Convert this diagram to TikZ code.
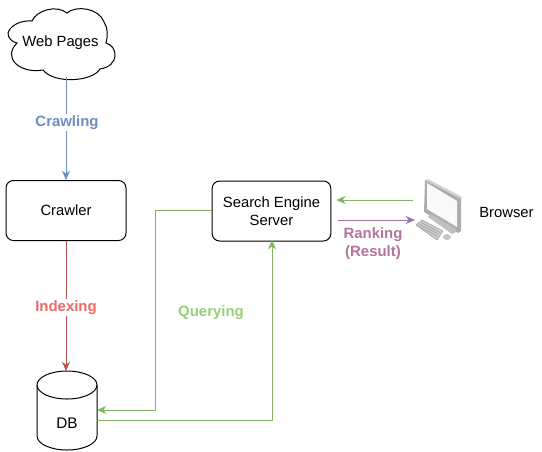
\documentclass[tikz,border=0pt]{standalone}
\usepackage{fontspec}
\setmainfont{Liberation Sans}
\usetikzlibrary{arrows.meta}
\definecolor{cblue}{HTML}{6C8EBF}
\definecolor{cred}{HTML}{B85450}
\definecolor{cgreen}{HTML}{82B366}
\definecolor{cpurple}{HTML}{9673A6}
\definecolor{tblue}{HTML}{6C8EBF}
\definecolor{tred}{HTML}{EA6B66}
\definecolor{tgreen}{HTML}{97D077}
\definecolor{tpurple}{HTML}{B5739D}
\tikzset{
  box/.style={draw=black,fill=white,rounded corners=5.6pt,minimum width=90pt,minimum height=45pt,inner sep=0pt,align=center,line width=0.75pt},
  lbl/.style={font=\fontsize{11.1pt}{13.5pt}\selectfont,align=center,inner sep=0pt},
  blbl/.style={font=\fontsize{11.2pt}{13.5pt}\selectfont\bfseries,align=center,inner sep=0pt,fill=white,inner xsep=1pt,inner ysep=1pt},
  conn/.style={line width=0.75pt,-{Stealth[length=7pt,width=6pt]}},
  shp/.style={line width=0.75pt,draw=black,fill=white}
}
\begin{document}
\begin{tikzpicture}[x=0.75pt,y=-0.75pt]
\useasboundingbox (0,0) rectangle (542,451);
% cloud
\draw[shp] (8,33) .. controls (10,26) and (20,20) .. (32,21)
 .. controls (36,11) and (56,4) .. (67,13)
 .. controls (76,5) and (99,8) .. (104,22)
 .. controls (108,28) and (108,36) .. (106,43)
 .. controls (118,46) and (120,66) .. (100,69)
 .. controls (92,82) and (54,84) .. (43,70)
 .. controls (20,74) and (2,58) .. (17,43)
 .. controls (12,42) and (8,38) .. (8,33) -- cycle;
\node[lbl] (web) at (60.5,43) {Web Pages};
\coordinate (webb) at (66,77);
\node[box,font=\fontsize{11.1pt}{13.5pt}\selectfont] (crawler) at (66,210.5) {\raisebox{-0.7pt}{Crawler}};
\node[box,minimum width=89pt,font=\fontsize{11.1pt}{13.5pt}\selectfont] (server) at (271.5,211) {Search Engine\\Server};
% DB
\draw[shp] (37,385) arc[x radius=30,y radius=14,start angle=180,end angle=360] -- (97,436) arc[x radius=30,y radius=14,start angle=0,end angle=180] -- cycle;
\draw[line width=0.75pt] (37,385) arc[x radius=30,y radius=14,start angle=180,end angle=0];
\node[lbl,font=\fontsize{11.5pt}{14pt}\selectfont] (db) at (67,423) {DB};
\coordinate (dbt) at (66,371);
\coordinate (dbr1) at (97,410);
\coordinate (dbr2) at (97,420);
\coordinate (sl) at (212,210);
\coordinate (sb) at (272,240);
\coordinate (sr1) at (331,200);
\coordinate (sr2) at (331,220);
\coordinate (pc1) at (413,200);
\coordinate (pc2) at (415,220);
% connectors
\draw[conn,draw=cblue] (webb) -- (crawler.north -| webb);
\draw[conn,draw=cred] (crawler.south -| dbt) -- (dbt);
\draw[conn,draw=cgreen] (sl) -- (155,210) -- (155,410) -- (dbr1);
\draw[conn,draw=cgreen] (dbr2) -- (272,420) -- (sb);
\draw[conn,draw=cgreen] (pc1) -- ([xshift=4pt]sr1);
\draw[conn,draw=cpurple] ([xshift=5pt]sr2) -- (pc2);
% labels
\node[blbl,text=tblue] (l1) at (67,122.5) {Crawling};
\node[blbl,text=tred] (l2) at (66,307.5) {Indexing};
\node[blbl,text=tgreen] (l3) at (211,312.5) {Querying};
\node[blbl,text=tpurple] (l4) at (373,244) {Ranking\\(Result)};
\node[lbl] (browser) at (506.5,212) {Browser};
% computer icon
\fill[gray!65] (425,180) -- (461,198) -- (461,231) -- (458,233) -- (424,212) -- cycle;
\fill[gray!35] (425,180) -- (428,179) -- (462,197) -- (461,199) -- cycle;
\fill[gray!5] (427,183) -- (457,201) -- (457,227) -- (427,209) -- cycle;
\fill[gray!50] (428,217) -- (431,214) -- (456,229) -- (456,232) -- (452,234) -- cycle;
\fill[gray!40] (416,225) -- (422,220) -- (443,231) -- (437,240) -- cycle;
\draw[gray!75,line width=0.4pt] (416,225) -- (422,220) -- (443,231) -- (437,240) -- cycle;
\draw[gray!75,line width=0.4pt] (419,224) -- (438,234) (418,226) -- (437,236) (421,222.5) -- (440,232.5);
\fill[gray!45] (447,237) ellipse[x radius=4,y radius=3];
\end{tikzpicture}
\end{document}
